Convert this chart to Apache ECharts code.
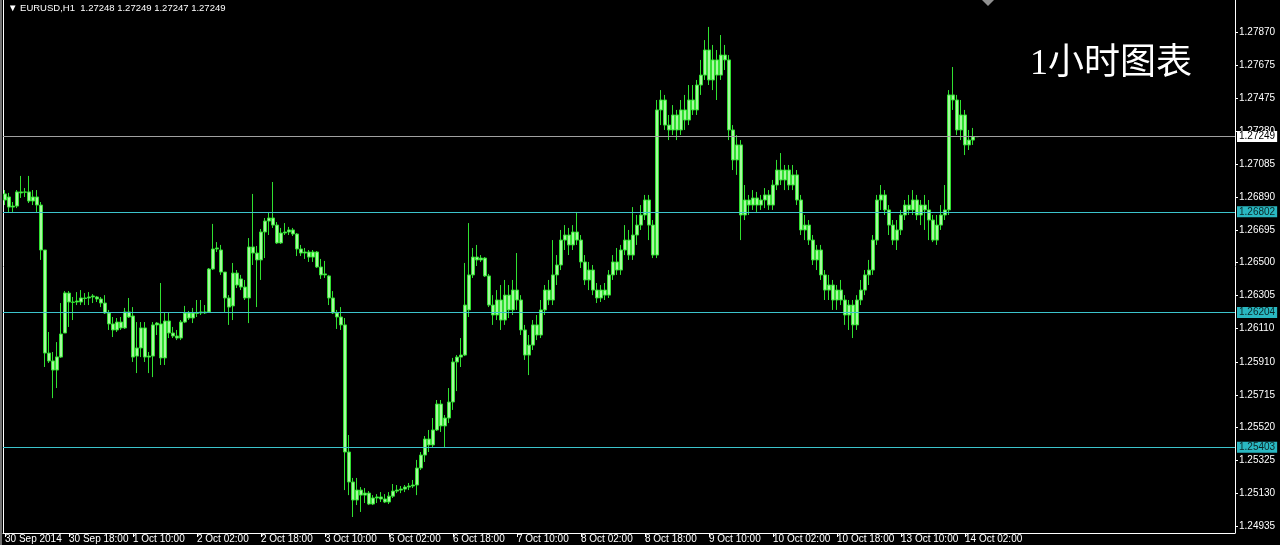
<!DOCTYPE html>
<html><head><meta charset="utf-8">
<script src="https://cdn.jsdelivr.net/npm/echarts@6/dist/echarts.min.js"></script>
<style>html,body{margin:0;padding:0;background:#000;}#c{width:1280px;height:545px;}</style>
</head><body><div id="c"></div>
<script>
// EURUSD H1 bars, 30 Sep 2014 02:00 -> 14 Oct 2014
const openP = [1.26872,1.26890,1.26830,1.26836,1.26920,1.26920,1.26920,1.26866,1.26890,1.26842,
1.26575,1.25963,1.25916,1.25862,1.25939,1.26082,1.26319,1.26266,1.26266,1.26266,
1.26290,1.26290,1.26296,1.26296,1.26284,1.26260,1.26201,1.26136,1.26100,1.26147,
1.26112,1.26207,1.26183,1.25945,1.25993,1.26112,1.25939,1.25945,1.26130,1.26136,
1.25934,1.26153,1.26082,1.26064,1.26052,1.26147,1.26201,1.26171,1.26201,1.26201,
1.26207,1.26207,1.26462,1.26581,1.26575,1.26444,1.26290,1.26243,1.26438,1.26403,
1.26355,1.26290,1.26593,1.26557,1.26516,1.26682,1.26747,1.26765,1.26723,1.26617,
1.26676,1.26682,1.26694,1.26670,1.26581,1.26557,1.26563,1.26533,1.26563,1.26474,
1.26427,1.26421,1.26290,1.26201,1.26177,1.26130,1.25375,1.25197,1.25090,1.25149,
1.25119,1.25131,1.25066,1.25102,1.25108,1.25096,1.25078,1.25113,1.25143,1.25149,
1.25155,1.25167,1.25173,1.25179,1.25280,1.25357,1.25452,1.25417,1.25506,1.25660,
1.25530,1.25577,1.25672,1.25910,1.25939,1.25951,1.26219,1.26427,1.26533,1.26516,
1.26527,1.26421,1.26248,1.26189,1.26278,1.26159,1.26307,1.26219,1.26337,1.26278,
1.26100,1.25951,1.26010,1.26130,1.26070,1.26219,1.26337,1.26278,1.26427,1.26486,
1.26634,1.26664,1.26605,1.26682,1.26634,1.26504,1.26397,1.26456,1.26337,1.26290,
1.26337,1.26307,1.26427,1.26504,1.26456,1.26575,1.26634,1.26545,1.26664,1.26723,
1.26783,1.26872,1.26723,1.26545,1.27407,1.27466,1.27317,1.27288,1.27377,1.27288,
1.27407,1.27347,1.27466,1.27407,1.27555,1.27614,1.27763,1.27585,1.27704,1.27614,
1.27733,1.27704,1.27288,1.27110,1.27199,1.26783,1.26872,1.26842,1.26884,1.26842,
1.26872,1.26902,1.26842,1.26961,1.27050,1.26991,1.27050,1.26961,1.27021,1.26872,
1.26694,1.26723,1.26634,1.26516,1.26575,1.26427,1.26337,1.26367,1.26278,1.26337,
1.26278,1.26189,1.26248,1.26130,1.26278,1.26337,1.26427,1.26456,1.26634,1.26872,
1.26902,1.26813,1.26723,1.26634,1.26694,1.26783,1.26842,1.26813,1.26872,1.26783,
1.26842,1.26813,1.26753,1.26634,1.26723,1.26783,1.26813,1.27496,1.27466,1.27288,
1.27377,1.27199,1.27228,1.27248];
const closeP = [1.26908,1.26830,1.26836,1.26920,1.26914,1.26918,1.26866,1.26890,1.26842,1.26575,
1.25963,1.25916,1.25862,1.25940,1.26076,1.26320,1.26266,1.26264,1.26272,1.26290,
1.26287,1.26296,1.26302,1.26284,1.26260,1.26201,1.26136,1.26100,1.26147,1.26112,
1.26207,1.26177,1.25939,1.25993,1.26112,1.25939,1.25945,1.26130,1.26141,1.25934,
1.26153,1.26082,1.26064,1.26052,1.26147,1.26201,1.26171,1.26201,1.26199,1.26207,
1.26201,1.26462,1.26581,1.26587,1.26444,1.26290,1.26236,1.26438,1.26367,1.26355,
1.26290,1.26593,1.26557,1.26516,1.26682,1.26747,1.26765,1.26723,1.26617,1.26676,
1.26682,1.26694,1.26670,1.26581,1.26557,1.26563,1.26533,1.26563,1.26474,1.26427,
1.26433,1.26290,1.26201,1.26177,1.26130,1.25375,1.25197,1.25090,1.25149,1.25119,
1.25131,1.25066,1.25102,1.25108,1.25096,1.25078,1.25113,1.25143,1.25149,1.25155,
1.25167,1.25173,1.25179,1.25280,1.25357,1.25452,1.25417,1.25506,1.25660,1.25530,
1.25577,1.25672,1.25910,1.25939,1.25951,1.26248,1.26427,1.26533,1.26516,1.26527,
1.26421,1.26248,1.26189,1.26278,1.26159,1.26307,1.26219,1.26337,1.26278,1.26100,
1.25951,1.26010,1.26130,1.26070,1.26219,1.26337,1.26278,1.26427,1.26486,1.26634,
1.26664,1.26605,1.26682,1.26634,1.26504,1.26397,1.26456,1.26337,1.26290,1.26337,
1.26307,1.26427,1.26504,1.26456,1.26575,1.26634,1.26545,1.26664,1.26723,1.26783,
1.26872,1.26723,1.26545,1.27407,1.27466,1.27317,1.27288,1.27377,1.27288,1.27407,
1.27347,1.27466,1.27407,1.27555,1.27614,1.27763,1.27585,1.27704,1.27614,1.27733,
1.27704,1.27288,1.27110,1.27199,1.26783,1.26872,1.26842,1.26884,1.26842,1.26872,
1.26902,1.26842,1.26961,1.27050,1.26991,1.27050,1.26961,1.27021,1.26872,1.26694,
1.26723,1.26634,1.26516,1.26575,1.26427,1.26337,1.26367,1.26278,1.26337,1.26278,
1.26189,1.26248,1.26130,1.26278,1.26337,1.26427,1.26456,1.26634,1.26872,1.26902,
1.26813,1.26723,1.26634,1.26694,1.26783,1.26842,1.26813,1.26872,1.26783,1.26842,
1.26813,1.26753,1.26634,1.26723,1.26783,1.26813,1.27496,1.27466,1.27288,1.27377,
1.27199,1.27228,1.27248,1.27249];
const highP = [1.26931,1.26914,1.26860,1.26931,1.27015,1.26943,1.27015,1.26931,1.26931,1.26860,
1.26575,1.26088,1.25969,1.26028,1.26260,1.26331,1.26331,1.26296,1.26325,1.26337,
1.26319,1.26325,1.26313,1.26302,1.26296,1.26307,1.26219,1.26177,1.26171,1.26177,
1.26231,1.26290,1.26236,1.26147,1.26147,1.26147,1.25969,1.26147,1.26147,1.26379,
1.26201,1.26201,1.26118,1.26100,1.26159,1.26243,1.26213,1.26231,1.26278,1.26278,
1.26248,1.26468,1.26730,1.26622,1.26605,1.26444,1.26307,1.26498,1.26456,1.26427,
1.26397,1.26646,1.26908,1.26599,1.26700,1.26765,1.26801,1.26979,1.26741,1.26706,
1.26735,1.26712,1.26706,1.26676,1.26605,1.26587,1.26575,1.26575,1.26569,1.26522,
1.26510,1.26427,1.26331,1.26219,1.26236,1.26171,1.25476,1.25221,1.25221,1.25167,
1.25161,1.25143,1.25119,1.25125,1.25137,1.25125,1.25137,1.25185,1.25179,1.25173,
1.25179,1.25191,1.25209,1.25328,1.25375,1.25470,1.25506,1.25577,1.25684,1.25684,
1.25595,1.25755,1.25934,1.25951,1.26052,1.26498,1.26735,1.26587,1.26605,1.26545,
1.26533,1.26433,1.26307,1.26337,1.26367,1.26397,1.26367,1.26397,1.26557,1.26307,
1.26130,1.26070,1.26159,1.26189,1.26278,1.26367,1.26397,1.26634,1.26545,1.26694,
1.26723,1.26706,1.26723,1.26801,1.26664,1.26545,1.26504,1.26486,1.26379,1.26367,
1.26379,1.26456,1.26545,1.26587,1.26605,1.26723,1.26694,1.26830,1.26783,1.26842,
1.26902,1.26902,1.26753,1.27466,1.27525,1.27496,1.27377,1.27436,1.27407,1.27466,
1.27496,1.27555,1.27555,1.27585,1.27704,1.27822,1.27900,1.27793,1.27763,1.27852,
1.27793,1.27733,1.27317,1.27258,1.27228,1.26961,1.26902,1.26931,1.26920,1.26902,
1.26943,1.26931,1.26991,1.27110,1.27151,1.27080,1.27080,1.27080,1.27050,1.26902,
1.26783,1.26753,1.26664,1.26605,1.26605,1.26456,1.26427,1.26397,1.26367,1.26397,
1.26307,1.26278,1.26278,1.26307,1.26397,1.26456,1.26516,1.26664,1.26902,1.26961,
1.26931,1.26842,1.26753,1.26753,1.26813,1.26872,1.26902,1.26931,1.26902,1.26872,
1.26902,1.26872,1.26783,1.26783,1.26842,1.26961,1.27525,1.27662,1.27496,1.27466,
1.27407,1.27288,1.27300,1.27249];
const lowP = [1.26842,1.26801,1.26801,1.26824,1.26884,1.26890,1.26854,1.26842,1.26801,1.26516,
1.25880,1.25904,1.25695,1.25755,1.25934,1.26082,1.26118,1.26159,1.26248,1.26248,
1.26248,1.26248,1.26260,1.26266,1.26236,1.26195,1.26100,1.26058,1.26088,1.26100,
1.26106,1.26171,1.25910,1.25844,1.25939,1.25910,1.25844,1.25820,1.26070,1.25892,
1.25892,1.26052,1.26052,1.26040,1.26040,1.26141,1.26159,1.26141,1.26177,1.26189,
1.26195,1.26201,1.26456,1.26563,1.26427,1.26207,1.26130,1.26159,1.26349,1.26337,
1.26278,1.26141,1.26486,1.26236,1.26397,1.26527,1.26664,1.26706,1.26611,1.26611,
1.26664,1.26664,1.26658,1.26539,1.26539,1.26522,1.26504,1.26504,1.26468,1.26403,
1.26409,1.26248,1.26195,1.26106,1.26100,1.25149,1.25119,1.24989,1.25060,1.25019,
1.25072,1.25060,1.25060,1.25072,1.25078,1.25072,1.25066,1.25102,1.25131,1.25131,
1.25137,1.25149,1.25161,1.25119,1.25268,1.25316,1.25375,1.25405,1.25500,1.25494,
1.25405,1.25547,1.25625,1.25737,1.25880,1.25945,1.26177,1.26409,1.26480,1.26504,
1.26415,1.26236,1.26130,1.26159,1.26100,1.26130,1.26171,1.26189,1.26219,1.26070,
1.25922,1.25832,1.25981,1.26040,1.26052,1.26189,1.26248,1.26248,1.26367,1.26456,
1.26575,1.26545,1.26575,1.26605,1.26468,1.26367,1.26337,1.26307,1.26260,1.26266,
1.26278,1.26290,1.26397,1.26427,1.26427,1.26545,1.26516,1.26516,1.26605,1.26694,
1.26753,1.26634,1.26527,1.26527,1.27317,1.27288,1.27228,1.27258,1.27228,1.27258,
1.27288,1.27317,1.27377,1.27377,1.27496,1.27585,1.27555,1.27525,1.27466,1.27585,
1.27644,1.27228,1.27050,1.27021,1.26634,1.26753,1.26783,1.26813,1.26801,1.26813,
1.26824,1.26813,1.26813,1.26931,1.26961,1.26931,1.26931,1.26931,1.26842,1.26664,
1.26634,1.26605,1.26486,1.26456,1.26397,1.26278,1.26278,1.26219,1.26219,1.26248,
1.26130,1.26100,1.26052,1.26100,1.26248,1.26307,1.26367,1.26427,1.26605,1.26813,
1.26783,1.26664,1.26605,1.26575,1.26664,1.26753,1.26783,1.26783,1.26753,1.26723,
1.26694,1.26634,1.26622,1.26605,1.26694,1.26753,1.26783,1.27407,1.27258,1.27228,
1.27139,1.27169,1.27199,1.27247];

const timeTickLabels = ["30 Sep 2014","30 Sep 18:00","1 Oct 10:00","2 Oct 02:00","2 Oct 18:00","3 Oct 10:00",
  "6 Oct 02:00","6 Oct 18:00","7 Oct 10:00","8 Oct 02:00","8 Oct 18:00","9 Oct 10:00",
  "10 Oct 02:00","10 Oct 18:00","13 Oct 10:00","14 Oct 02:00"];
const barsPerTick = 16;
const priceTicks = [1.27870,1.27675,1.27475,1.27280,1.27085,1.26890,1.26695,1.26500,
  1.26305,1.26110,1.25910,1.25715,1.25520,1.25325,1.25130,1.24935];
const levelLines = [1.26802,1.26204,1.25403];
const bidPrice = 1.27249;
const headerText = "EURUSD,H1  1.27248 1.27249 1.27247 1.27249";
const cornerTitle = "1小时图表";
const yMin = 1.24894, yMax = 1.28060;
const totalSlots = 308; // visible bar slots incl. right shift

const categories = [];
for (let i = 0; i < totalSlots; i++) categories.push('s' + i);
const ohlc = openP.map((o, i) => [o, closeP[i], lowP[i], highP[i]]);
const isTick = (idx) => idx % barsPerTick === 0 && idx / barsPerTick < timeTickLabels.length;

const chart = echarts.init(document.getElementById('c'), null, {renderer: 'canvas'});
const white = '#ffffff';
const cyan = '#3cc4cc';
chart.setOption({
  backgroundColor: '#000000',
  animation: false,
  grid: {left: 3, right: 45, top: 0, bottom: 12, containLabel: false},
  xAxis: {
    type: 'category', data: categories, boundaryGap: true,
    axisLine: {show: true, lineStyle: {color: white, width: 1}},
    axisTick: {show: true, alignWithLabel: true, interval: (idx) => isTick(idx), length: 4, lineStyle: {color: white}},
    axisLabel: {show: true, interval: (idx) => isTick(idx), align: 'left', margin: 1,
      formatter: (v, idx) => timeTickLabels[idx / barsPerTick] || '',
      color: white, fontSize: 10, fontFamily: 'Liberation Sans'},
    splitLine: {show: false}
  },
  yAxis: [{
    type: 'value', position: 'right', min: yMin, max: yMax, scale: true,
    axisLine: {show: true, lineStyle: {color: white, width: 1}},
    axisTick: {show: true, customValues: priceTicks, length: 3, lineStyle: {color: white}},
    axisLabel: {show: true, customValues: priceTicks, formatter: (v) => v.toFixed(5), color: white,
      fontSize: 10, fontFamily: 'Liberation Sans', margin: 4},
    splitLine: {show: false}
  }, {
    type: 'value', position: 'left', min: yMin, max: yMax,
    axisLine: {show: true, onZero: false, lineStyle: {color: white, width: 1}},
    axisTick: {show: false}, axisLabel: {show: false}, splitLine: {show: false}
  }],
  series: [{
    type: 'candlestick', data: ohlc, barWidth: 3,
    itemStyle: {color: '#a8f8a0', color0: '#a8f8a0', borderColor: '#30e030', borderColor0: '#30e030', borderWidth: 1},
    markLine: {
      symbol: 'none', silent: true, animation: false, precision: 5,
      data: levelLines.map(v => ({yAxis: v,
        lineStyle: {color: cyan, width: 1, type: 'solid'},
        label: {show: true, position: 'end', distance: 2, formatter: () => v.toFixed(5),
          backgroundColor: '#2ab8c2', color: '#0b2626', fontSize: 10, fontFamily: 'Liberation Sans', padding: [1, 2, 0, 2]}
      })).concat([{yAxis: bidPrice,
        lineStyle: {color: '#a0a0a0', width: 1, type: 'solid'},
        label: {show: true, position: 'end', distance: 2, formatter: () => bidPrice.toFixed(5),
          backgroundColor: '#ffffff', color: '#000000', fontSize: 10, fontFamily: 'Liberation Sans', padding: [1, 2, 0, 2]}
      }])
    }
  }],
  graphic: [
    {type: 'rect', left: 0, top: 0, shape: {width: 2, height: 545}, style: {fill: '#707070'}},
    {type: 'text', left: 8, top: 3, style: {text: '\u25BC ' + headerText, fill: white, font: '9.5px "Liberation Sans"'}},
    {type: 'text', left: 1030, top: 47, style: {text: cornerTitle, fill: white, font: '36px "Liberation Serif", "Noto Sans CJK SC"'}},
    {type: 'polygon', shape: {points: [[982, 0], [994, 0], [988, 6]]}, style: {fill: '#909090'}}
  ]
});
</script></body></html>
